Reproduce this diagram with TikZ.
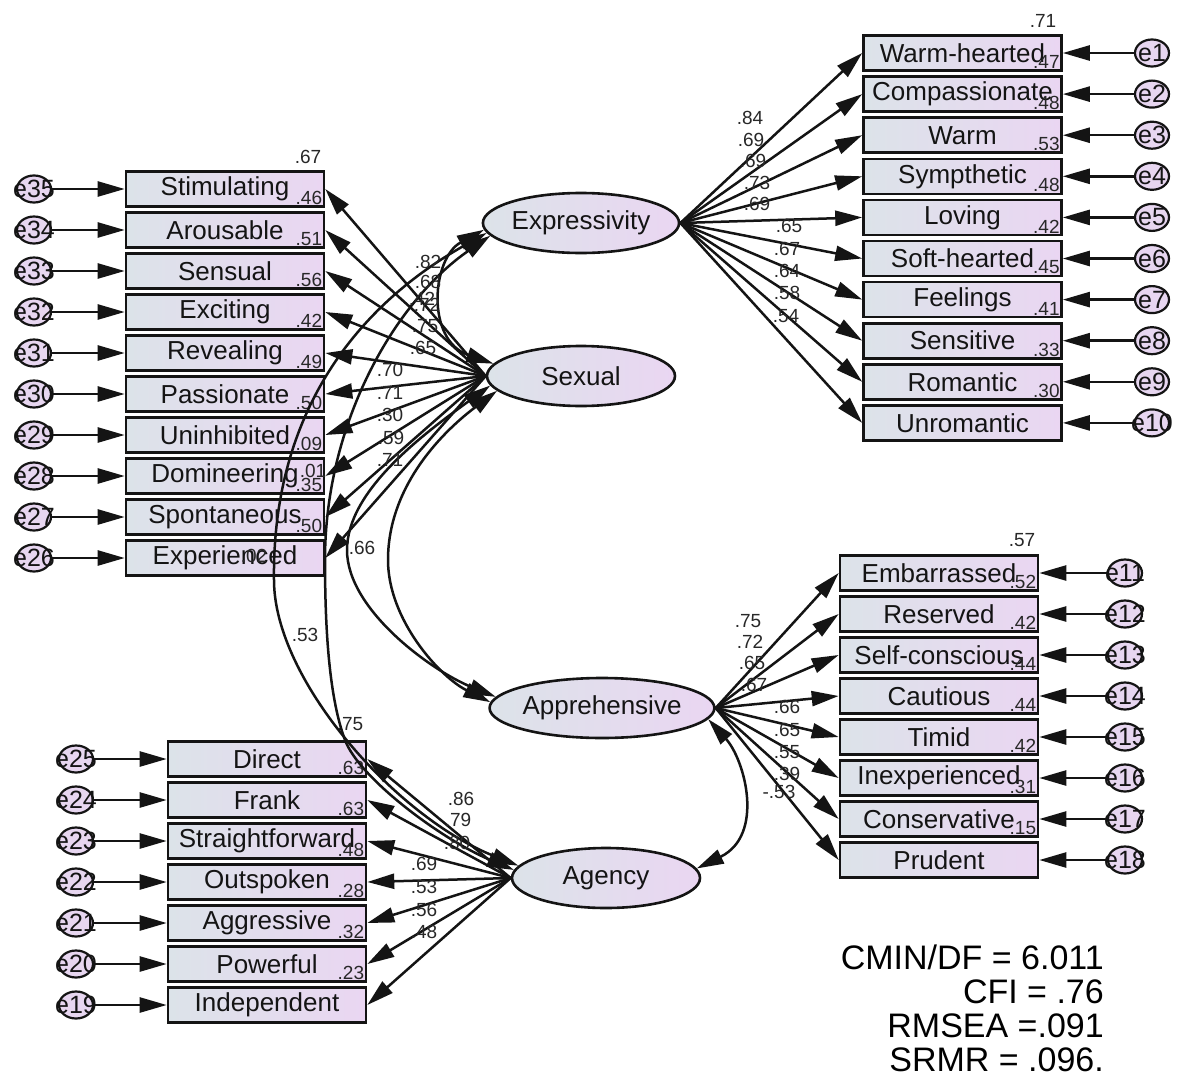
\documentclass[tikz,border=0pt]{standalone}
\usepackage{fontspec}
\setmainfont{Liberation Sans}
\usetikzlibrary{shapes.geometric,arrows.meta,calc}
\definecolor{boxL}{RGB}{220,227,233}
\definecolor{boxR}{RGB}{234,214,242}
\definecolor{errC}{RGB}{231,214,240}
\definecolor{ink}{RGB}{20,20,20}
\definecolor{numc}{RGB}{40,40,40}
\tikzset{
  obsbox/.style={rectangle, draw=ink, line width=2.6pt, left color=boxL, right color=boxR,
    minimum width=198pt, minimum height=35pt, inner sep=0pt, text=ink,
    font=\fontsize{26}{26}\selectfont},
  latent/.style={ellipse, draw=ink, line width=2.6pt, left color=boxL, right color=boxR,
    minimum width=188pt, minimum height=60pt, inner sep=0pt, text=ink,
    font=\fontsize{26}{26}\selectfont},
  errnode/.style={ellipse, draw=ink, line width=2.2pt, fill=errC,
    minimum width=34pt, minimum height=27pt, inner sep=0pt},
  errlab/.style={inner sep=0pt, text=ink, font=\fontsize{25}{25}\selectfont},
  coef/.style={inner sep=0pt, text=numc, font=\fontsize{19}{19}\selectfont},
  fitstat/.style={inner sep=0pt, align=right, text=black, font=\fontsize{34}{34}\selectfont},
  loadarrow/.style={draw=ink, line width=2.5pt, -{Triangle[length=27pt,width=15pt]}},
  covarrow/.style={draw=ink, line width=2.5pt,
    {Triangle[length=27pt,width=15pt]}-{Triangle[length=27pt,width=15pt]}},
}
\begin{document}
\begin{tikzpicture}[x=1pt,y=-1pt]
\fill[white] (0,0) rectangle (1186,1079);
\useasboundingbox (0,0) rectangle (1186,1079);

% latent factors
\node[latent] (expr)   at (581,223) {Expressivity};
\node[latent] (sexual) at (581,376) {Sexual};
\node[latent] (appr)   at (602,708) {Apprehensive};
\node[latent] (agency) at (606,878) {Agency};

% Expressivity indicators with errors e1-e10
\foreach \nm/\txt [count=\i from 0] in {wh/Warm-hearted, comp/Compassionate, warm/Warm,
    symp/Sympthetic, lov/Loving, soft/Soft-hearted, feel/Feelings, sens/Sensitive,
    rom/Romantic, unrom/Unromantic} {
  \pgfmathtruncatemacro{\en}{\i+1}
  \node[obsbox] (\nm) at (962.5,{53+41.1*\i}) {\txt};
  \node[errnode, label={[errlab]center:e\en}] (e\en) at (1152,{53+41.1*\i}) {};
  \draw[loadarrow] (e\en) -- (\nm.east);
  \draw[loadarrow] (expr.east) -- (\nm.west);
}

% Sexual indicators with errors e35-e26
\foreach \nm/\txt [count=\i from 0] in {stim/Stimulating, arou/Arousable, sensu/Sensual,
    exci/Exciting, reve/Revealing, pass/Passionate, uninh/Uninhibited, domi/Domineering,
    spon/Spontaneous, expe/Experienced} {
  \pgfmathtruncatemacro{\en}{35-\i}
  \node[obsbox] (\nm) at (225,{189+41.0*\i}) {\txt};
  \node[errnode, label={[errlab]center:e\en}] (e\en) at (34,{189+41.0*\i}) {};
  \draw[loadarrow] (e\en) -- (\nm.west);
  \draw[loadarrow] (sexual.west) -- (\nm.east);
}

% Apprehensive indicators with errors e11-e18
\foreach \nm/\txt [count=\i from 0] in {emb/Embarrassed, res/Reserved, selfc/Self-conscious,
    caut/Cautious, tim/Timid, inexp/Inexperienced, cons/Conservative, prud/Prudent} {
  \pgfmathtruncatemacro{\en}{11+\i}
  \node[obsbox] (\nm) at (939,{573+41.0*\i}) {\txt};
  \node[errnode, label={[errlab]center:e\en}] (e\en) at (1125,{573+41.0*\i}) {};
  \draw[loadarrow] (e\en) -- (\nm.east);
  \draw[loadarrow] (appr.east) -- (\nm.west);
}

% Agency indicators with errors e25-e19
\foreach \nm/\txt [count=\i from 0] in {dir/Direct, frank/Frank, straight/Straightforward,
    outs/Outspoken, aggr/Aggressive, pow/Powerful, indep/Independent} {
  \pgfmathtruncatemacro{\en}{25-\i}
  \node[obsbox] (\nm) at (267,{759+41.0*\i}) {\txt};
  \node[errnode, label={[errlab]center:e\en}] (e\en) at (76,{759+41.0*\i}) {};
  \draw[loadarrow] (e\en) -- (\nm.west);
  \draw[loadarrow] (agency.west) -- (\nm.east);
}

% squared multiple correlations
\foreach \nm/\val in {wh/.47, comp/.48, warm/.53, symp/.48, lov/.42, soft/.45, feel/.41,
    sens/.33, rom/.30, stim/.46, arou/.51, sensu/.56, exci/.42, reve/.49, pass/.50,
    uninh/.09, domi/.35, spon/.50, emb/.52, res/.42, selfc/.44, caut/.44, tim/.42,
    inexp/.31, cons/.15, dir/.63, frank/.63, straight/.48, outs/.28, aggr/.32, pow/.23}
  \node[coef, anchor=south east] (r2\nm) at ($(\nm.south east)+(-3,-3)$) {\val};
\node[coef] (r2top1) at (1043,21)  {.71};
\node[coef] (r2top2) at (308,157)  {.67};
\node[coef] (r2top3) at (1022,540) {.57};
\node[coef] (r2top4) at (350,724)  {.75};

% factor covariances
\draw[covarrow] (expr.186) .. controls (350,310) and (272,420) .. (274,580)
  .. controls (274,680) and (396,817) .. (agency.172);
\draw[covarrow] (expr.188) .. controls (397,300) and (325,420) .. (325,560)
  .. controls (325,620) and (328,695) .. (345,740)
  .. controls (359,778) and (441,839) .. (agency.175);
\draw[covarrow] (sexual.186) .. controls (425,433) and (347,490) .. (347,550)
  .. controls (347,610) and (432,671) .. (appr.174);
\draw[covarrow] (sexual.190) .. controls (437,436) and (388,490) .. (388,560)
  .. controls (388,620) and (440,677) .. (appr.177);
\draw[covarrow] (expr.184) .. controls (432,258) and (425,340) .. (sexual.172);
\draw[covarrow] (appr.-6) .. controls (745,760) and (765,835) .. (agency.6);

% loadings: Expressivity
\foreach \x/\y/\v [count=\k] in {750/118/.84, 751/140/.69, 753/161/.69, 757/183/.73,
    757/204/.69, 789/226/.65, 787/249/.67, 787/271/.64, 787/293/.58, 786/316/.54}
  \node[coef] (lx\k) at (\x,\y) {\v};
% loadings: Sexual
\foreach \x/\y/\v [count=\k] in {428/262/.82, 428/282/.68, 427/305/.72, 425/326/.75,
    423/348/.65, 390/370/.70, 390/393/.71, 390/415/.30, 391/438/.59, 390/460/.71}
  \node[coef] (ls\k) at (\x,\y) {\v};
% loadings: Apprehensive
\foreach \x/\y/\v [count=\k] in {748/621/.75, 750/642/.72, 752/663/.65, 754/685/.67,
    787/707/.66, 787/730/.65, 787/752/.55, 787/774/.39}
  \node[coef] (lp\k) at (\x,\y) {\v};
% loadings: Agency
\foreach \x/\y/\v [count=\k] in {461/799/.86, 458/820/.79, 457/843/.80, 424/864/.69,
    424/887/.53, 424/910/.56, 424/932/.48}
  \node[coef] (la\k) at (\x,\y) {\v};

% covariance values
\node[coef] (cv1) at (422,299) {.42};
\node[coef] (cv2) at (313,471) {.01};
\node[coef] (cv3) at (254,556) {.02};
\node[coef] (cv4) at (362,548) {.66};
\node[coef] (cv5) at (305,635) {.53};
\node[coef] (cv6) at (779,792) {-.53};

% fit indices
\node[fitstat, anchor=north east] (fit) at (1104,945)
  {CMIN/DF = 6.011\\CFI = .76\\RMSEA =.091\\SRMR = .096.};
\end{tikzpicture}
\end{document}
